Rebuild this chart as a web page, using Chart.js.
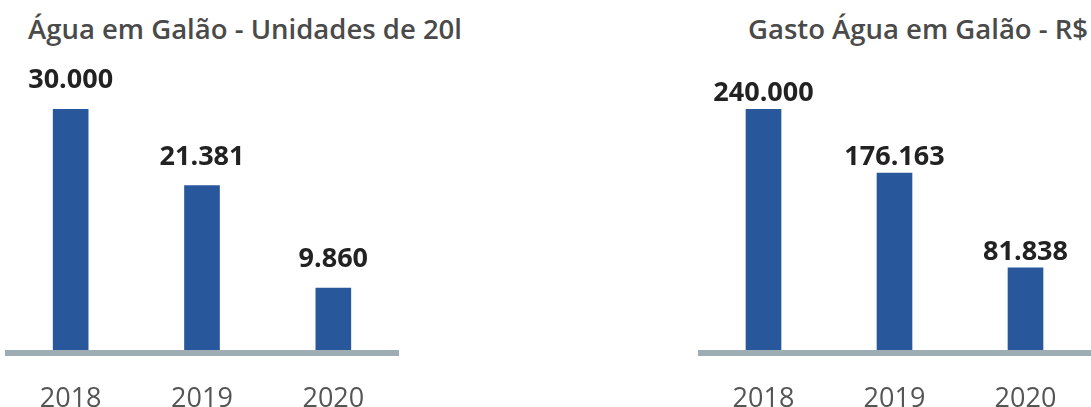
<!DOCTYPE html>
<html lang="pt-BR">
<head>
<meta charset="utf-8">
<script src="https://cdn.jsdelivr.net/npm/chart.js@4"></script>
<style>
  html, body { margin: 0; padding: 0; background: #fff; }
  body { width: 1091px; height: 407px; position: relative; overflow: hidden; font-family: 'Open Sans', sans-serif; }
  .titulo { position: absolute; top: 10px; font-size: 27.5px; line-height: 38px; font-weight: 600; color: #4a4a4a; white-space: nowrap; }
  .caixa { position: absolute; top: 0; height: 407px; }
</style>
</head>
<body>
<div class="titulo" id="t1" style="left:28px"></div>
<div class="titulo" id="t2" style="left:748px"></div>
<div class="caixa" style="left:0;width:480px"><canvas id="graficoUnidades"></canvas></div>
<div class="caixa" style="left:600px;width:491px"><canvas id="graficoGasto"></canvas></div>
<script>
// dados
const anos = ['2018', '2019', '2020'];
const unidades = [30000, 21381, 9860];
const gastos = [240000, 176163, 81838];
const tituloUnidades = 'Água em Galão - Unidades de 20l';
const tituloGasto = 'Gasto Água em Galão - R$';

document.getElementById('t1').textContent = tituloUnidades;
document.getElementById('t2').textContent = tituloGasto;

function formatar(v) {
    return v.toString().replace(/\B(?=(\d{3})+(?!\d))/g, '.');
}

// linha de base cinza + valores em cima das barras
const rotulosPlugin = {
    id: 'rotulos',
    afterDatasetsDraw(chart, args, opts) {
        const ctx = chart.ctx;
        const area = chart.chartArea;
        ctx.save();
        ctx.fillStyle = '#9eacb4';
        ctx.fillRect(area.left, area.bottom, area.right - area.left, 6);

        const ds = chart.data.datasets[0];
        const meta = chart.getDatasetMeta(0);
        ctx.fillStyle = '#222';
        ctx.font = "bold 27px 'Open Sans'";
        ctx.textAlign = 'center';
        ctx.textBaseline = 'alphabetic';
        meta.data.forEach((bar, i) => {
            ctx.fillText(formatar(ds.data[i]), bar.x, bar.y - opts.gap);
        });
        ctx.restore();
    }
};

function criarGrafico(id, valores, minimo, padding, gap) {
    const ctx = document.getElementById(id).getContext('2d');
    return new Chart(ctx, {
        type: 'bar',
        data: {
            labels: anos,
            datasets: [{
                data: valores,
                backgroundColor: '#28589b',
                barThickness: 35
            }]
        },
        options: {
            responsive: true,
            maintainAspectRatio: false,
            animation: false,
            devicePixelRatio: 1,
            layout: { padding: padding },
            plugins: {
                legend: { display: false },
                tooltip: { enabled: false },
                rotulos: { gap: gap }
            },
            scales: {
                x: {
                    grid: { display: false, drawTicks: false },
                    border: { display: false },
                    ticks: {
                        color: '#555',
                        font: { family: 'Open Sans', size: 27 },
                        padding: 33
                    },
                    afterFit(scale) { scale.height = 57; }
                },
                y: {
                    display: false,
                    min: minimo,
                    max: Math.max(...valores)
                }
            }
        },
        plugins: [rotulosPlugin]
    });
}

criarGrafico('graficoUnidades', unidades, 2900, { left: 5, right: 81, top: 109, bottom: 0 }, 21);
criarGrafico('graficoGasto', gastos, 0, { left: 98, right: 0, top: 109, bottom: 0 }, 8);
</script>
</body>
</html>
